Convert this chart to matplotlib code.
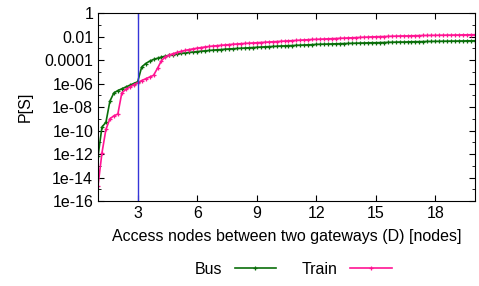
import numpy as np
import matplotlib
matplotlib.use("Agg")
import matplotlib.pyplot as plt
from matplotlib.ticker import FixedLocator

plt.rcParams['font.family'] = ['Liberation Sans', 'DejaVu Sans']
plt.rcParams['font.size'] = 11.5

# -----------------------------
# data (log10 of P[S])
# -----------------------------
nodes = np.round(np.arange(1.0, 20.01, 0.2), 1)

bus_log = [
    -12.2, -9.7, -9.3, -7.5, -6.8, -6.6, -6.45, -6.3, -6.15, -6.0,
    -5.85, -4.6, -4.3, -4.1, -3.95, -3.85, -3.75, -3.67, -3.6, -3.54,
    -3.49, -3.44, -3.4, -3.36, -3.32, -3.28, -3.25, -3.22, -3.19, -3.16,
    -3.13, -3.11, -3.08, -3.06, -3.04, -3.02, -3.0, -2.98, -2.96, -2.94,
    -2.92, -2.9, -2.88, -2.86, -2.85, -2.83, -2.81, -2.8, -2.78, -2.77,
    -2.75, -2.74, -2.72, -2.71, -2.69, -2.67, -2.66, -2.65, -2.64, -2.63,
    -2.62, -2.61, -2.6, -2.59, -2.58, -2.57, -2.56, -2.55, -2.54, -2.53,
    -2.53, -2.52, -2.51, -2.5, -2.49, -2.48, -2.47, -2.47, -2.46, -2.45,
    -2.44, -2.44, -2.43, -2.42, -2.42, -2.41, -2.41, -2.4, -2.4, -2.39,
    -2.39, -2.38, -2.38, -2.37, -2.37, -2.36,
]

train_log = [
    -14.7, -11.9, -9.9, -9.0, -8.75, -8.6, -6.8, -6.5, -6.3, -6.1,
    -5.93, -5.75, -5.6, -5.45, -5.3, -4.7, -4.05, -3.72, -3.57, -3.45,
    -3.35, -3.26, -3.18, -3.11, -3.05, -2.99, -2.94, -2.89, -2.85, -2.81,
    -2.78, -2.75, -2.72, -2.69, -2.66, -2.64, -2.61, -2.59, -2.57, -2.55,
    -2.53, -2.51, -2.49, -2.47, -2.45, -2.43, -2.41, -2.39, -2.37, -2.35,
    -2.33, -2.31, -2.29, -2.27, -2.25, -2.24, -2.23, -2.21, -2.2, -2.18,
    -2.17, -2.15, -2.14, -2.12, -2.11, -2.09, -2.08, -2.06, -2.05, -2.03,
    -2.02, -2.01, -2.0, -1.99, -1.98, -1.97, -1.96, -1.95, -1.95, -1.94,
    -1.93, -1.92, -1.91, -1.91, -1.9, -1.9, -1.89, -1.89, -1.88, -1.88,
    -1.87, -1.87, -1.86, -1.86, -1.85, -1.85,
]

gateway_d = 3
x_ticks = [3, 6, 9, 12, 15, 18]
y_ticks = [1, 1e-2, 1e-4, 1e-6, 1e-8, 1e-10, 1e-12, 1e-14, 1e-16]
y_labels = ["1", "0.01", "0.0001", "1e-06", "1e-08", "1e-10", "1e-12", "1e-14", "1e-16"]

# -----------------------------
# plot
# -----------------------------
fig = plt.figure(figsize=(4.79, 2.86), dpi=100)
ax = fig.add_axes([0.2046, 0.2972, 0.787, 0.6573])

ax.plot(nodes, 10.0 ** np.array(bus_log), color="#0a6e0a", lw=1.2,
        marker="+", ms=3.5, mew=0.9, label="Bus")
ax.plot(nodes, 10.0 ** np.array(train_log), color="#ff1493", lw=1.2,
        marker="+", ms=3.5, mew=0.9, label="Train")
ax.axvline(gateway_d, color="#3535d8", lw=1.0)

ax.set_yscale("log")
ax.set_xlim(1, 20)
ax.set_ylim(1e-16, 1)
ax.set_xticks(x_ticks)
ax.set_yticks(y_ticks)
ax.set_yticklabels(y_labels)
ax.yaxis.set_minor_locator(FixedLocator([10.0 ** -k for k in range(1, 16, 2)]))
ax.yaxis.set_minor_formatter(plt.NullFormatter())
ax.tick_params(which="both", direction="in", top=True, right=True)
ax.tick_params(which="major", length=4)
ax.tick_params(which="minor", length=2)

ax.set_xlabel("Access nodes between two gateways (D) [nodes]", labelpad=6)
ax.set_ylabel("P[S]", labelpad=8)

fig.legend(loc="center", bbox_to_anchor=(0.612, 0.058), ncol=2, frameon=False,
           markerfirst=False, handlelength=2.6, columnspacing=1.6)

fig.savefig("out.png", dpi=100)
